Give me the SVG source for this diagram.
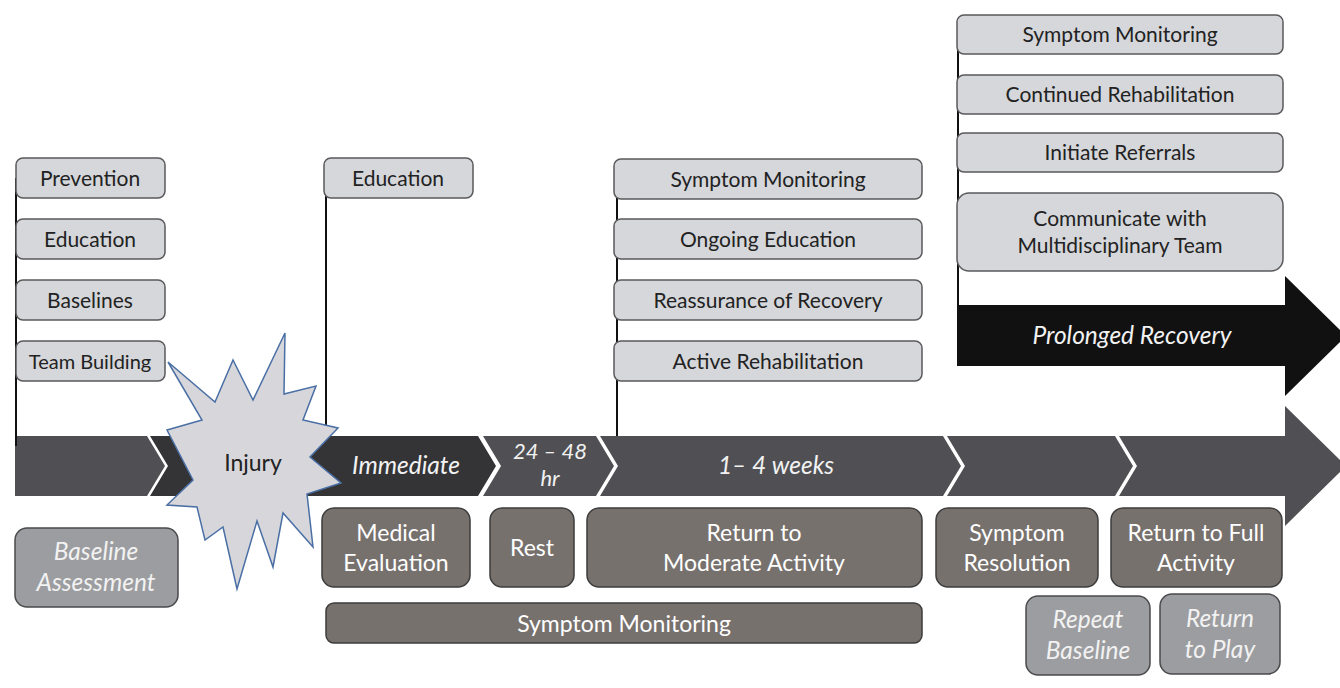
<svg xmlns="http://www.w3.org/2000/svg" width="1340" height="688" viewBox="0 0 1340 688">
<style>
.lt{fill:#d5d7db;stroke:#5a5a5c;stroke-width:1.5}
.dk{fill:#77716e;stroke:#3c3c3c;stroke-width:1.5}
.md{fill:#9c9da0;stroke:#4a4a4c;stroke-width:1.5}
.t{font-family:Lato,"Open Sans",sans-serif;font-size:21px;fill:#222;text-anchor:middle}
.w{font-family:Lato,"Open Sans",sans-serif;font-size:23px;fill:#fff;text-anchor:middle}
.wi{font-family:Lato,"Open Sans",sans-serif;font-size:24.5px;fill:#f2f2f2;text-anchor:middle;font-style:italic}
.ln{stroke:#111;stroke-width:2;fill:none}
.seg{fill:#505054}
.segd{fill:#343437}
</style>
<rect width="1340" height="688" fill="#fff"/>
<g id="timeline">
<polygon class="seg" points="15,436 147,436 165,466 147,496 15,496"/>
<polygon class="segd" points="150,436 478,436 496,466 478,496 150,496 168,466"/>
<polygon class="seg" points="483,436 596,436 614,466 596,496 483,496 501,466"/>
<polygon class="seg" points="600,436 943,436 961,466 943,496 600,496 618,466"/>
<polygon class="seg" points="947,436 1115,436 1133,466 1115,496 947,496 965,466"/>
<polygon class="seg" points="1119,436 1285,436 1285,406 1346,466 1285,526 1285,496 1119,496 1137,466"/>
<text class="wi" x="406" y="474">Immediate</text>
<text class="wi" x="550" y="459" style="font-size:22px">24 – 48</text>
<text class="wi" x="550" y="486" style="font-size:22px">hr</text>
<text class="wi" x="776" y="474">1– 4 weeks</text>
</g>
<g id="prolonged">
<polygon fill="#111" points="957,305 1285,305 1285,276 1346,336 1285,396 1285,366 957,366"/>
<text class="wi" x="1132" y="344">Prolonged Recovery</text>
</g>
<g id="connectors">
<line class="ln" x1="16" y1="178" x2="16" y2="446"/>
<line class="ln" x1="326" y1="178" x2="326" y2="436"/>
<line class="ln" x1="617" y1="178" x2="617" y2="436"/>
<line class="ln" x1="958" y1="35" x2="958" y2="356"/>
</g>
<g id="pre">
<rect class="lt" x="16" y="158" width="149" height="40" rx="7"/><text class="t" x="90" y="186">Prevention</text>
<rect class="lt" x="16" y="219" width="149" height="40" rx="7"/><text class="t" x="90" y="247">Education</text>
<rect class="lt" x="16" y="280" width="149" height="40" rx="7"/><text class="t" x="90" y="308">Baselines</text>
<rect class="lt" x="16" y="341" width="149" height="40" rx="7"/><text class="t" x="90" y="369" style="font-size:20px">Team Building</text>
</g>
<g id="edu">
<rect class="lt" x="324" y="158" width="149" height="40" rx="7"/><text class="t" x="398" y="186">Education</text>
</g>
<g id="mid">
<rect class="lt" x="614" y="159" width="308" height="40" rx="7"/><text class="t" x="768" y="187">Symptom Monitoring</text>
<rect class="lt" x="614" y="219" width="308" height="40" rx="7"/><text class="t" x="768" y="247">Ongoing Education</text>
<rect class="lt" x="614" y="280" width="308" height="40" rx="7"/><text class="t" x="768" y="308">Reassurance of Recovery</text>
<rect class="lt" x="614" y="341" width="308" height="40" rx="7"/><text class="t" x="768" y="369">Active Rehabilitation</text>
</g>
<g id="prolonged-tasks">
<rect class="lt" x="957" y="15" width="326" height="39" rx="7"/><text class="t" x="1120" y="42">Symptom Monitoring</text>
<rect class="lt" x="957" y="75" width="326" height="39" rx="7"/><text class="t" x="1120" y="102">Continued Rehabilitation</text>
<rect class="lt" x="957" y="133" width="326" height="39" rx="7"/><text class="t" x="1120" y="160">Initiate Referrals</text>
<rect class="lt" x="957" y="193" width="326" height="78" rx="12"/><text class="t" x="1120" y="226">Communicate with</text><text class="t" x="1120" y="253">Multidisciplinary Team</text>
</g>
<g id="injury">
<polygon fill="#d7d7db" stroke="#4a6fa5" stroke-width="1.5" points="168,362 215,402 233,360 253,400 285,333 284,394 316,386 303,420 338,428 310,457 341,483 307,494 313,547 283,513 273,567 257,521 237,589 223,527 205,540 197,507 167,505 193,480 167,430 202,420"/>
<text class="t" x="253" y="471" style="font-size:23px">Injury</text>
</g>
<g id="baseline">
<rect class="md" x="15" y="528" width="163" height="79" rx="12"/>
<text class="wi" x="96" y="560">Baseline</text><text class="wi" x="96" y="591">Assessment</text>
</g>
<g id="medical">
<rect class="dk" x="322" y="508" width="148" height="79" rx="12"/>
<text class="w" x="396" y="541">Medical</text><text class="w" x="396" y="571">Evaluation</text>
</g>
<g id="rest">
<rect class="dk" x="490" y="508" width="84" height="79" rx="12"/>
<text class="w" x="532" y="556">Rest</text>
</g>
<g id="moderate">
<rect class="dk" x="587" y="508" width="335" height="79" rx="12"/>
<text class="w" x="754" y="541">Return to</text><text class="w" x="754" y="571">Moderate Activity</text>
</g>
<g id="resolution">
<rect class="dk" x="936" y="508" width="162" height="79" rx="12"/>
<text class="w" x="1017" y="541">Symptom</text><text class="w" x="1017" y="571">Resolution</text>
</g>
<g id="full">
<rect class="dk" x="1111" y="508" width="171" height="79" rx="12"/>
<text class="w" x="1196" y="541">Return to Full</text><text class="w" x="1196" y="571">Activity</text>
</g>
<g id="monitoring">
<rect class="dk" x="326" y="603" width="596" height="40" rx="8"/>
<text class="w" x="624" y="632">Symptom Monitoring</text>
</g>
<g id="repeat">
<rect class="md" x="1026" y="596" width="124" height="79" rx="12"/>
<text class="wi" x="1088" y="628">Repeat</text><text class="wi" x="1088" y="659">Baseline</text>
</g>
<g id="play">
<rect class="md" x="1160" y="594" width="120" height="80" rx="12"/>
<text class="wi" x="1220" y="627">Return</text><text class="wi" x="1220" y="658">to Play</text>
</g>
</svg>
